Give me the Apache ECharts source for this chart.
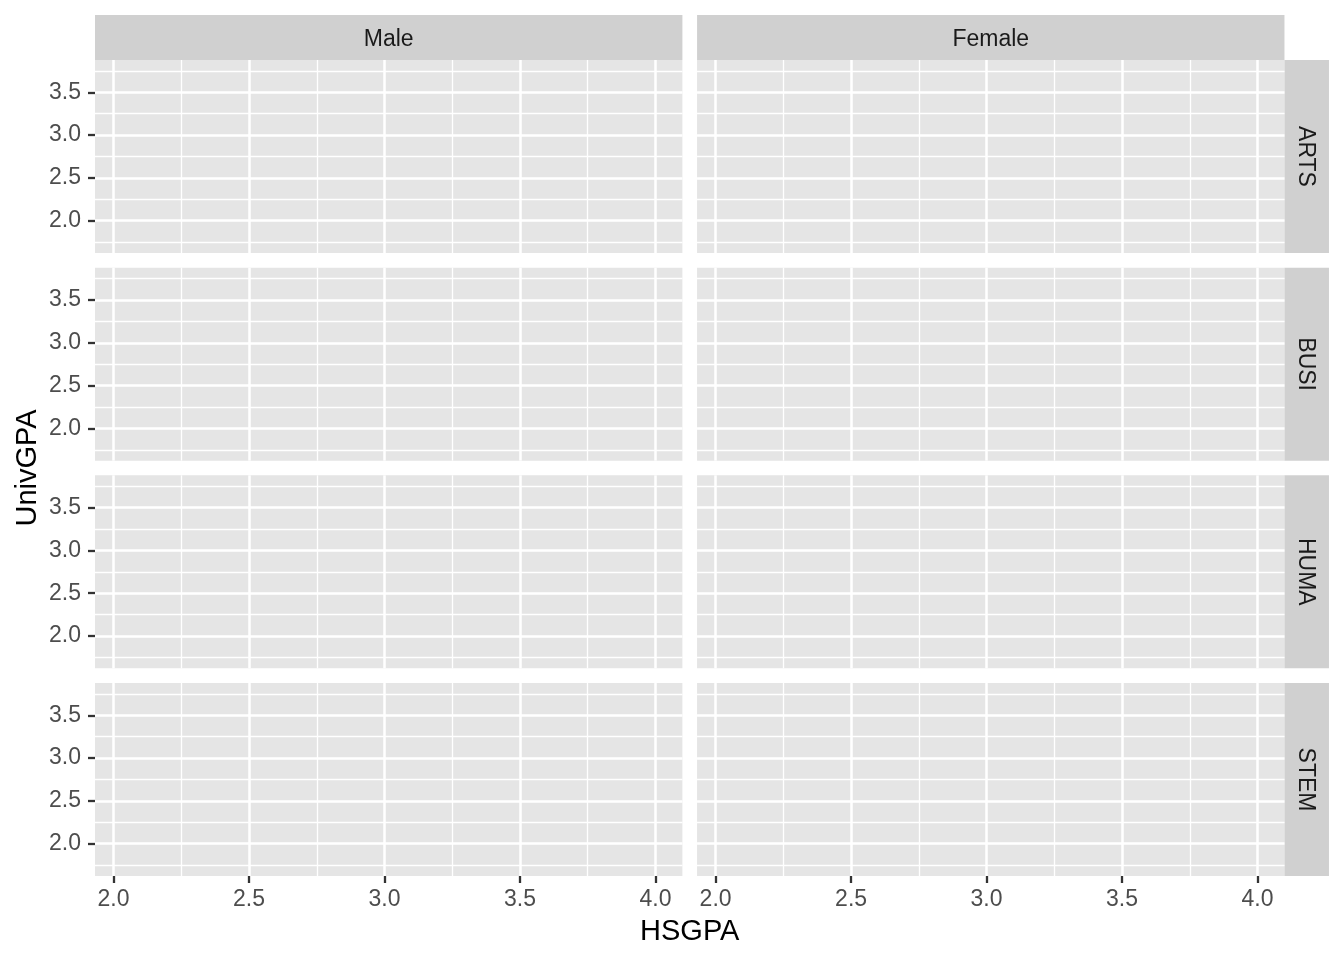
<!DOCTYPE html>
<html>
<head>
<meta charset="utf-8">
<script src="https://cdn.jsdelivr.net/npm/echarts@6/dist/echarts.min.js"></script>
<style>html,body{margin:0;padding:0;background:#fff}#c{width:1344px;height:960px}</style>
</head>
<body>
<div id="c"></div>
<script>
// ---- data (empty facetted plot: no observations) ----
const colFacets = ['Male', 'Female'];
const rowFacets = ['ARTS', 'BUSI', 'HUMA', 'STEM'];
const xMajor = [2.0, 2.5, 3.0, 3.5, 4.0];
const xMinor = [2.25, 2.75, 3.25, 3.75];
const yMajor = [2.0, 2.5, 3.0, 3.5];
const yMinor = [1.75, 2.25, 2.75, 3.25, 3.75];
const xLimits = [1.9317, 4.0993];
const yLimits = [1.6226, 3.8773];
const xTitle = 'HSGPA';
const yTitle = 'UnivGPA';

// ---- layout ----
const FONT = '"Liberation Sans", Arial, Helvetica, sans-serif';
const panelLeft = 95, panelTop = 60, panelW = 587.4, panelH = 193, gap = 14.67;
const stripH = 45, stripW = 44.5;
const panelBg = '#e5e5e5', stripBg = '#d0d0d0';

const grids = [], xAxes = [], yAxes = [], series = [], graphics = [];
let idx = 0;
rowFacets.forEach((rf, r) => {
  colFacets.forEach((cf, c) => {
    const left = panelLeft + c * (panelW + gap);
    const top = panelTop + r * (panelH + gap);
    grids.push({left: left, top: top, width: panelW, height: panelH,
      show: true, backgroundColor: panelBg, borderWidth: 0, containLabel: false});
    const showX = r === rowFacets.length - 1;
    const showY = c === 0;
    xAxes.push({
      type: 'value', gridIndex: idx, min: xLimits[0], max: xLimits[1],
      axisLine: {show: false},
      splitLine: {show: false},
      axisTick: {show: showX, length: 7, lineStyle: {color: '#333333', width: 2.3}, customValues: xMajor},
      axisLabel: {show: showX, customValues: xMajor, margin: 12, color: '#4d4d4d', fontSize: 23, fontFamily: FONT,
        formatter: v => Number(v).toFixed(1)}
    });
    yAxes.push({
      type: 'value', gridIndex: idx, min: yLimits[0], max: yLimits[1],
      axisLine: {show: false},
      splitLine: {show: false},
      axisTick: {show: showY, length: 7, lineStyle: {color: '#333333', width: 2.3}, customValues: yMajor},
      axisLabel: {show: showY, customValues: yMajor, margin: 14, color: '#4d4d4d', fontSize: 23, fontFamily: FONT,
        padding: [4, 0, 0, 0],
        formatter: v => Number(v).toFixed(1)}
    });
    const lines = [];
    xMinor.forEach(v => lines.push({xAxis: v, lineStyle: {color: '#ffffff', width: 1.3, type: 'solid'}}));
    yMinor.forEach(v => lines.push({yAxis: v, lineStyle: {color: '#ffffff', width: 1.3, type: 'solid'}}));
    xMajor.forEach(v => lines.push({xAxis: v, lineStyle: {color: '#ffffff', width: 2.5, type: 'solid'}}));
    yMajor.forEach(v => lines.push({yAxis: v, lineStyle: {color: '#ffffff', width: 2.5, type: 'solid'}}));
    series.push({
      type: 'scatter', xAxisIndex: idx, yAxisIndex: idx, data: [], silent: true,
      markLine: {silent: true, symbol: ['none', 'none'], animation: false,
        label: {show: false}, emphasis: {disabled: true}, data: lines}
    });
    // top strips
    if (r === 0) {
      graphics.push({type: 'rect', shape: {x: left, y: panelTop - stripH, width: panelW, height: stripH},
        style: {fill: stripBg}, silent: true});
      graphics.push({type: 'text', x: left + panelW / 2, y: panelTop - stripH / 2 + 2,
        style: {text: cf, fill: '#1a1a1a', font: '23px ' + FONT, align: 'center', verticalAlign: 'middle'}, silent: true});
    }
    // right strips
    if (c === colFacets.length - 1) {
      const sx = left + panelW;
      graphics.push({type: 'rect', shape: {x: sx, y: top, width: stripW, height: panelH},
        style: {fill: stripBg}, silent: true});
      graphics.push({type: 'text', x: sx + stripW / 2 - 1, y: top + panelH / 2, rotation: -Math.PI / 2,
        style: {text: rf, fill: '#1a1a1a', font: '23px ' + FONT, align: 'center', verticalAlign: 'middle'}, silent: true});
    }
    idx++;
  });
});

const totalW = 2 * panelW + gap;
const totalH = 4 * panelH + 3 * gap;
graphics.push({type: 'text', x: panelLeft + totalW / 2, y: 932,
  style: {text: xTitle, fill: '#000000', font: '29px ' + FONT, align: 'center', verticalAlign: 'middle'}, silent: true});
graphics.push({type: 'text', x: 28, y: panelTop + totalH / 2, rotation: Math.PI / 2,
  style: {text: yTitle, fill: '#000000', font: '29px ' + FONT, align: 'center', verticalAlign: 'middle'}, silent: true});

const chart = echarts.init(document.getElementById('c'), null, {renderer: 'canvas'});
chart.setOption({
  animation: false,
  backgroundColor: '#ffffff',
  grid: grids,
  xAxis: xAxes,
  yAxis: yAxes,
  series: series,
  graphic: graphics
});
</script>
</body>
</html>
